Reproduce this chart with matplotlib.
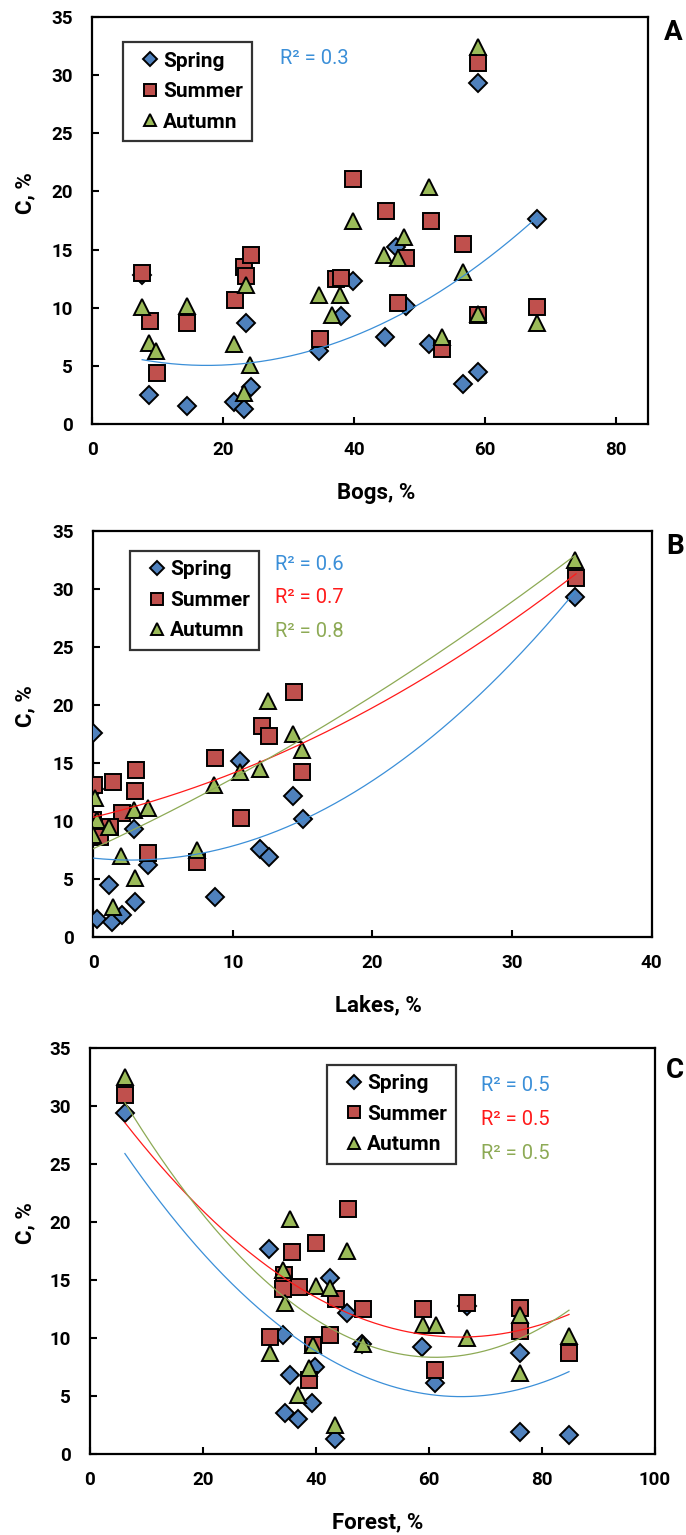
import matplotlib
matplotlib.use("Agg")
import matplotlib.pyplot as plt
import numpy as np

plt.rcParams['font.family'] = ['Roboto', 'DejaVu Sans']
plt.rcParams['font.weight'] = 'bold'
plt.rcParams['axes.labelweight'] = 'bold'

seasons = ['Spring', 'Summer', 'Autumn']
markers = ['D', 's', '^']
msizes = [9, 12, 12]
face = ['#4F81BD', '#C0504D', '#9BBB59']
trend_col = ['#3B8FD8', '#FF1A1A', '#8DAA55']

# panel A: bogs
bogs_spring = [8.7, 14.5, 21.7, 23.1, 24.2, 23.5, 34.7, 38.0, 39.8, 7.6, 59.0, 68.0, 46.4, 48.0, 44.7, 51.5, 56.7, 59.0]
c_spring_a = [2.5, 1.6, 1.9, 1.3, 3.2, 8.7, 6.3, 9.3, 12.3, 12.8, 29.3, 17.6, 15.2, 10.2, 7.5, 6.9, 3.5, 4.5]
bogs_summer = [7.6, 8.8, 9.8, 14.5, 21.8, 23.1, 23.5, 24.2, 34.8, 37.2, 38.0, 39.9, 44.9, 47.9, 46.7, 51.7, 53.5, 56.7, 59.0, 59.0, 68.0]
c_summer_a = [13.0, 8.9, 4.4, 8.7, 10.7, 13.5, 12.7, 14.5, 7.3, 12.5, 12.6, 21.1, 18.3, 14.3, 10.4, 17.5, 6.5, 15.5, 31.0, 9.4, 10.1]
bogs_autumn = [7.5, 8.6, 9.7, 14.4, 21.7, 23.5, 24.1, 23.1, 34.7, 36.6, 37.9, 39.8, 44.6, 46.7, 47.7, 51.5, 56.7, 53.5, 59.0, 59.0, 68.0]
c_autumn_a = [10.1, 7.0, 6.3, 10.2, 6.9, 12.0, 5.1, 2.7, 11.1, 9.4, 11.1, 17.5, 14.5, 14.3, 16.1, 20.4, 13.1, 7.5, 32.4, 9.5, 8.7]

# panel B: lakes
lakes_spring = [0.0, 10.5, 14.3, 15.0, 11.95, 12.6, 8.7, 2.94, 3.94, 1.15, 2.99, 0.24, 1.36, 2.03, 34.5, 0.05]
c_spring_b = [17.6, 15.2, 12.2, 10.2, 7.6, 6.9, 3.5, 9.3, 6.2, 4.5, 3.05, 1.55, 1.3, 1.9, 29.3, 12.8]
lakes_summer = [0.05, 1.43, 3.04, 2.99, 2.03, 0.0, 1.2, 0.5, 3.94, 7.46, 10.6, 8.72, 12.07, 12.6, 14.39, 14.98, 34.58]
c_summer_b = [13.1, 13.4, 14.4, 12.6, 10.7, 10.1, 9.5, 8.6, 7.3, 6.5, 10.3, 15.4, 18.2, 17.35, 21.1, 14.2, 30.9]
lakes_autumn = [0.12, 0.3, 0.0, 1.13, 2.94, 3.94, 2.0, 2.99, 1.4, 7.41, 8.65, 10.5, 11.95, 12.55, 14.34, 14.94, 34.5]
c_autumn_b = [12.0, 10.1, 8.8, 9.5, 11.0, 11.1, 7.0, 5.1, 2.65, 7.5, 13.1, 14.2, 14.5, 20.3, 17.5, 16.1, 32.5]

# panel C: forest
forest_spring = [6.2, 31.7, 34.2, 42.5, 45.5, 35.5, 39.8, 39.4, 34.5, 36.9, 43.4, 48.1, 58.8, 61.1, 76.1, 76.1, 84.8, 66.7]
c_spring_c = [29.4, 17.7, 10.3, 15.2, 12.2, 6.8, 7.5, 4.4, 3.5, 3.0, 1.3, 9.5, 9.25, 6.1, 8.7, 1.9, 1.6, 12.8]
forest_summer = [6.2, 35.7, 40.0, 45.7, 34.4, 34.2, 37.1, 43.6, 48.4, 31.9, 39.5, 42.5, 38.7, 59.0, 61.1, 66.8, 76.2, 76.2, 84.8]
c_summer_c = [31.0, 17.4, 18.2, 21.1, 15.4, 14.2, 14.4, 13.4, 12.5, 10.1, 9.4, 10.3, 6.4, 12.5, 7.2, 13.0, 12.6, 10.6, 8.7]
forest_autumn = [6.2, 35.5, 45.5, 34.1, 34.5, 40.0, 42.5, 31.8, 39.5, 48.3, 38.7, 36.9, 43.4, 58.9, 61.3, 66.8, 76.2, 76.1, 84.8]
c_autumn_c = [32.5, 20.3, 17.5, 15.9, 13.0, 14.5, 14.3, 8.7, 9.4, 9.5, 7.4, 5.1, 2.5, 11.1, 11.1, 10.0, 12.0, 7.0, 10.2]

r2_a = ['R² = 0.3']
r2_b = ['R² = 0.6', 'R² = 0.7', 'R² = 0.8']
r2_c = ['R² = 0.5', 'R² = 0.5', 'R² = 0.5']

fig = plt.figure(figsize=(6.86, 15.35), dpi=100)


def panel(rect, xs, ys, xmax, xstep, xlabel, letter, fits, r2, leg_xy, r2_xy, ylab_x, letter_xy):
    ax = fig.add_axes(rect)
    for i in range(3):
        ax.plot(xs[i], ys[i], linestyle='none', marker=markers[i], ms=msizes[i],
                mfc=face[i], mec='black', mew=1.4, label=seasons[i], zorder=3 + i)
    for k, i in enumerate(fits):
        coef = np.polyfit(xs[i], ys[i], 2)
        xx = np.linspace(min(xs[i]), max(xs[i]), 200)
        ax.plot(xx, np.polyval(coef, xx), color=trend_col[i], lw=0.9, zorder=10)
        ax.text(r2_xy[0], r2_xy[1] - k * 0.083, r2[k], color=trend_col[i], fontsize=14.5,
                fontweight='normal', transform=ax.transAxes, va='center', ha='left')
    ax.set_xlim(0, xmax)
    ax.set_ylim(0, 35)
    ax.set_xticks(np.arange(0, xmax + 0.1, xstep))
    ax.set_yticks(np.arange(0, 36, 5))
    for s in ax.spines.values():
        s.set_linewidth(1.6)
    ax.tick_params(direction='in', length=5, width=1.5, labelsize=13.5,
                   top=False, right=False)
    ax.tick_params(axis='x', pad=12)
    ax.tick_params(axis='y', pad=14)
    for lab in ax.get_xticklabels() + ax.get_yticklabels():
        lab.set_fontweight('bold')
    ax.set_ylabel('C, %', fontsize=16, fontweight='bold')
    ax.yaxis.set_label_coords(ylab_x, 0.568)
    ax.yaxis.label.set_va('center')
    ax.set_xlabel(xlabel, fontsize=16, fontweight='bold')
    ax.xaxis.set_label_coords(0.51, -0.168)
    ax.xaxis.label.set_va('center')
    leg = ax.legend(loc='upper left', bbox_to_anchor=leg_xy, borderaxespad=0,
                    fontsize=15, frameon=True, fancybox=False, edgecolor='black',
                    borderpad=0.45, labelspacing=0.55, handlelength=1.7,
                    handletextpad=-0.23, markerscale=0.75, numpoints=1)
    leg.get_frame().set_linewidth(1.6)
    leg.set_zorder(20)
    fig.text(letter_xy[0], letter_xy[1], letter, fontsize=20, ha='center', va='center')
    return ax


panel([0.1348, 0.7235, 0.8102, 0.2657],
      [bogs_spring, bogs_summer, bogs_autumn], [c_spring_a, c_summer_a, c_autumn_a],
      85, 20, 'Bogs, %', 'A', [0], r2_a, (0.055, 0.937), (0.337, 0.898),
      -0.1215, (673 / 686, 1 - 33 / 1535))

panel([0.136, 0.3893, 0.814, 0.2650],
      [lakes_spring, lakes_summer, lakes_autumn], [c_spring_b, c_summer_b, c_autumn_b],
      40, 10, 'Lakes, %', 'B', [0, 1, 2], r2_b, (0.0657, 0.950), (0.325, 0.918),
      -0.1223, (675 / 686, 1 - 547 / 1535))

panel([0.131, 0.0528, 0.8236, 0.2643],
      [forest_spring, forest_summer, forest_autumn], [c_spring_c, c_summer_c, c_autumn_c],
      100, 20, 'Forest, %', 'C', [0, 1, 2], r2_c, (0.420, 0.959), (0.693, 0.907),
      -0.1149, (675 / 686, 1 - 1070 / 1535))

fig.savefig('out.png', dpi=100)
